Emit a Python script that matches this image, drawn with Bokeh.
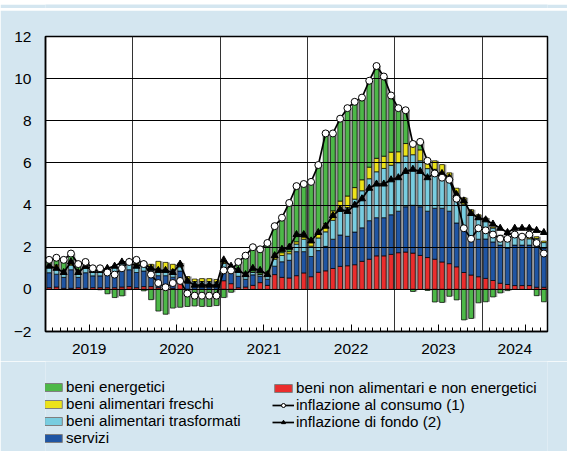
import numpy as np
from bokeh.plotting import figure
from bokeh.layouts import column
from bokeh.models import (ColumnDataSource, Range1d, FixedTicker, LabelSet,
                          Legend, LegendItem, LinearAxis)
from bokeh.core.properties import value
from bokeh.embed import file_html
from bokeh.resources import INLINE

# ---------------- data (Jan 2019 .. Sep 2024, monthly) ----------------
mesi = [f"{2019 + i // 12}-{i % 12 + 1:02d}" for i in range(69)]

energetici = [
    0.27, 0.34, 0.54, 0.48, 0.33, 0.21, 0.02, -0.02, -0.21, -0.39, -0.31, -0.01,
    0.16, -0.07, -0.49, -1.03, -1.18, -0.89, -0.85, -0.81, -0.79, -0.81, -0.81, -0.77,
    -0.39, -0.14, 0.44, 0.97, 1.18, 1.17, 1.38, 1.47, 1.66, 2.31, 2.64, 2.52,
    2.79, 3.16, 4.28, 3.67, 3.91, 4.17, 4.07, 3.90, 4.10, 4.38, 3.78, 2.69,
    2.07, 1.58, -0.10, 0.38, -0.05, -0.60, -0.62, -0.33, -0.50, -1.45, -1.38, -0.64,
    -0.59, -0.36, -0.17, -0.06, 0.03, 0.02, 0.11, -0.30, -0.59]
freschi = [
    0.05, 0.10, 0.06, 0.07, 0.09, 0.09, 0.07, 0.07, 0.04, 0.05, 0.09, 0.09,
    0.10, 0.09, 0.16, 0.34, 0.34, 0.26, 0.18, 0.16, 0.12, 0.14, 0.14, 0.12,
    0.06, 0.08, 0.02, 0.01, 0.00, 0.03, 0.09, 0.10, 0.13, 0.10, 0.11, 0.10,
    0.26, 0.30, 0.39, 0.45, 0.48, 0.55, 0.55, 0.52, 0.55, 0.64, 0.58, 0.62,
    0.52, 0.59, 0.61, 0.52, 0.42, 0.40, 0.39, 0.30, 0.32, 0.31, 0.26, 0.22,
    0.09, 0.05, 0.02, 0.02, 0.07, 0.08, 0.09, 0.08, 0.07]
trasformati = [
    0.29, 0.34, 0.23, 0.22, 0.21, 0.21, 0.27, 0.31, 0.25, 0.25, 0.29, 0.29,
    0.34, 0.31, 0.30, 0.34, 0.29, 0.35, 0.20, 0.16, 0.22, 0.22, 0.22, 0.20,
    0.26, 0.20, 0.22, 0.14, 0.13, 0.08, 0.25, 0.33, 0.30, 0.31, 0.36, 0.59,
    0.49, 0.60, 0.69, 0.90, 1.13, 1.36, 1.56, 1.76, 1.99, 2.18, 2.34, 2.35,
    2.30, 2.41, 2.40, 2.18, 2.02, 1.85, 1.68, 1.52, 1.33, 1.10, 1.00, 0.94,
    0.91, 0.66, 0.45, 0.48, 0.40, 0.30, 0.30, 0.39, 0.26]
servizi = [
    0.71, 0.61, 0.52, 0.88, 0.49, 0.74, 0.56, 0.56, 0.64, 0.71, 0.82, 0.80,
    0.72, 0.74, 0.60, 0.57, 0.60, 0.53, 0.52, 0.29, 0.15, 0.15, 0.15, 0.15,
    0.56, 0.49, 0.54, 0.37, 0.50, 0.30, 0.29, 0.40, 0.74, 0.84, 1.14, 1.01,
    0.96, 1.03, 1.16, 1.39, 1.49, 1.40, 1.55, 1.59, 1.83, 1.81, 1.81, 1.88,
    1.97, 2.15, 2.27, 2.31, 2.20, 2.42, 2.55, 2.49, 2.08, 2.14, 1.84, 1.78,
    1.87, 1.83, 1.81, 1.73, 1.92, 1.92, 1.92, 1.93, 1.86]
non_alimentari = [
    0.08, 0.11, 0.05, 0.05, 0.08, 0.05, 0.08, 0.08, 0.08, 0.08, 0.11, 0.13,
    0.08, 0.13, 0.13, 0.08, 0.05, 0.05, 0.35, 0.00, 0.00, 0.00, 0.00, 0.00,
    0.41, 0.27, 0.08, 0.11, 0.19, 0.32, 0.19, 0.70, 0.57, 0.54, 0.65, 0.78,
    0.60, 0.81, 0.88, 0.99, 1.09, 1.12, 1.17, 1.33, 1.43, 1.59, 1.59, 1.66,
    1.74, 1.77, 1.72, 1.61, 1.51, 1.43, 1.30, 1.22, 1.07, 0.80, 0.68, 0.60,
    0.52, 0.42, 0.29, 0.23, 0.18, 0.18, 0.18, 0.10, 0.10]
inflazione_consumo = [
    1.4, 1.5, 1.4, 1.7, 1.2, 1.3, 1.0, 1.0, 0.8, 0.7, 1.0, 1.3,
    1.4, 1.2, 0.7, 0.3, 0.1, 0.3, 0.4, -0.2, -0.3, -0.3, -0.3, -0.3,
    0.9, 0.9, 1.3, 1.6, 2.0, 1.9, 2.2, 3.0, 3.4, 4.1, 4.9, 5.0,
    5.1, 5.9, 7.4, 7.4, 8.1, 8.6, 8.9, 9.1, 9.9, 10.6, 10.1, 9.2,
    8.6, 8.5, 6.9, 7.0, 6.1, 5.5, 5.3, 5.2, 4.3, 2.9, 2.4, 2.9,
    2.8, 2.6, 2.4, 2.4, 2.6, 2.5, 2.6, 2.2, 1.7]
inflazione_fondo = [
    1.1, 1.0, 0.8, 1.3, 0.8, 1.1, 0.9, 0.9, 1.0, 1.1, 1.3, 1.3,
    1.1, 1.2, 1.0, 0.9, 0.9, 0.8, 1.2, 0.4, 0.2, 0.2, 0.2, 0.2,
    1.4, 1.1, 0.9, 0.7, 1.0, 0.9, 0.7, 1.6, 1.9, 2.0, 2.6, 2.6,
    2.3, 2.7, 3.0, 3.5, 3.8, 3.7, 4.0, 4.3, 4.8, 5.0, 5.0, 5.2,
    5.3, 5.6, 5.7, 5.6, 5.3, 5.5, 5.5, 5.3, 4.5, 4.2, 3.6, 3.4,
    3.3, 3.1, 2.9, 2.7, 2.9, 2.9, 2.9, 2.8, 2.7]

anni = ["2019", "2020", "2021", "2022", "2023", "2024"]
anni_pos = [6, 18, 30, 42, 54, 64.5]
y_ticks = [-2, 0, 2, 4, 6, 8, 10, 12]

# ---------------- style ----------------
FONT = "Liberation Sans"
FS = "15.5px"
LFS = "15.2px"
BG = "#d4e6f0"
TOPLINE = "#2c7aab"
GREEN = "#4db848"
YELLOW = "#ece31a"
LBLUE = "#78cde0"
BLUE = "#1f55a3"
RED = "#ea2d2d"
W = 567

n = len(mesi)
xc = np.arange(n) + 0.5


def strip(h, color):
    s = figure(width=W, height=h, output_backend="svg", toolbar_location=None,
               x_axis_location=None, y_axis_location=None,
               x_range=Range1d(0, 1), y_range=Range1d(0, 1), min_border=0)
    s.background_fill_color = color
    s.border_fill_color = color
    s.outline_line_color = None
    s.grid.visible = False
    return s


p_pad = strip(8, BG)        # light-blue band above the rule
p_rule = strip(2, TOPLINE)  # thin dark-blue rule across the page

# ---------------- main chart ----------------
p = figure(width=W, height=351, output_backend="svg", toolbar_location=None,
           x_range=Range1d(0, n), y_range=Range1d(-2, 12),
           min_border_left=45, min_border_right=20, min_border_top=26,
           min_border_bottom=30)
p.background_fill_color = "white"
p.border_fill_color = BG
p.outline_line_color = "black"
p.outline_line_width = 1.5

comps = [(non_alimentari, RED), (servizi, BLUE), (trasformati, LBLUE),
         (freschi, YELLOW), (energetici, GREEN)]
pos_tot = np.zeros(n)
neg_tot = np.zeros(n)
segments = []
for vals, col in comps:
    v = np.array(vals, dtype=float)
    bottom = np.where(v >= 0, pos_tot, neg_tot + v)
    top = np.where(v >= 0, pos_tot + v, neg_tot)
    pos_tot = np.where(v >= 0, pos_tot + v, pos_tot)
    neg_tot = np.where(v < 0, neg_tot + v, neg_tot)
    segments.append((bottom, top, col))

BW = 0.65
shadow = p.vbar(x=xc + 0.27, bottom=neg_tot, top=pos_tot, width=BW,
                fill_color="#9a9a9a", line_color=None)
shadow.level = "image"
for bottom, top, col in segments:
    r = p.vbar(x=xc, bottom=bottom, top=top, width=BW, fill_color=col,
               line_color="black", line_width=0.7)
    r.level = "image"

src = ColumnDataSource(dict(x=xc, cons=inflazione_consumo, fondo=inflazione_fondo))
p.line("x", "fondo", source=src, color="black", line_width=1.7)
p.scatter("x", "fondo", source=src, marker="triangle", size=7,
          fill_color="black", line_color="black")
p.line("x", "cons", source=src, color="black", line_width=1.7)
p.scatter("x", "cons", source=src, marker="circle", size=7,
          fill_color="white", line_color="black", line_width=1)

p.xgrid.ticker = FixedTicker(ticks=[12, 24, 36, 48, 60])
p.xgrid.grid_line_color = "#333333"
p.xgrid.grid_line_width = 1
p.ygrid.ticker = FixedTicker(ticks=[0, 2, 4, 6, 8, 10])
p.ygrid.grid_line_color = "black"
p.ygrid.grid_line_width = 1

# month ticks (inside, at the bottom)
xax = p.xaxis[0]
mid = [6, 18, 30, 42, 54, 66]
minor = [k for k in range(1, n) if k % 12 != 0 and k % 12 != 6]
xax.ticker = FixedTicker(ticks=mid, minor_ticks=minor)
xax.major_label_overrides = {t: "" for t in mid}
xax.major_label_text_font_size = "0px"
xax.major_label_standoff = 0
xax.major_tick_in = 7
xax.major_tick_out = 0
xax.minor_tick_in = 4
xax.minor_tick_out = 0
xax.major_tick_line_color = "black"
xax.minor_tick_line_color = "black"
xax.axis_line_color = "black"
xax.axis_line_width = 1.5

# year labels
yr_axis = LinearAxis(ticker=FixedTicker(ticks=anni_pos),
                     major_label_overrides=dict(zip(anni_pos, anni)),
                     major_tick_line_color=None, minor_tick_line_color=None,
                     axis_line_color=None, major_label_standoff=6,
                     major_label_text_font=FONT, major_label_text_font_size=FS,
                     major_label_text_color="black")
p.add_layout(yr_axis, "below")

yax = p.yaxis[0]
yax.ticker = FixedTicker(ticks=y_ticks)
yax.major_tick_in = 0
yax.major_tick_out = 0
yax.minor_tick_line_color = None
yax.major_label_standoff = 14
yax.major_label_text_font = FONT
yax.major_label_text_font_size = FS
yax.major_label_text_color = "black"
yax.axis_line_color = "black"
yax.axis_line_width = 1.5

# right-hand tick labels (cut at the page edge as in the original)
rsrc = ColumnDataSource(dict(x=[n] * len(y_ticks), y=y_ticks,
                             t=[str(v) for v in y_ticks]))
p.add_layout(LabelSet(x="x", y="y", text="t", source=rsrc, x_offset=13,
                      text_align="left", text_baseline="middle",
                      text_font=value(FONT), text_font_size=FS,
                      text_color="black"))

# ---------------- legend panel ----------------
p_leg = figure(width=W, height=90, output_backend="svg", toolbar_location=None,
               x_axis_location=None, y_axis_location=None,
               x_range=Range1d(0, 1), y_range=Range1d(0, 1), min_border=0)
p_leg.background_fill_color = BG
p_leg.border_fill_color = BG
p_leg.outline_line_color = None
p_leg.grid.visible = False

NAN = np.array([np.nan])


def box(col):
    return p_leg.vbar(x=NAN, top=NAN, width=0.5, fill_color=col,
                      line_color="#7f7f7f", line_width=1)


def key_line(marker, fill):
    rl = p_leg.line(x=NAN, y=NAN, color="black", line_width=1.7)
    rs = p_leg.scatter(x=NAN, y=NAN, marker=marker, size=6, fill_color=fill,
                       line_color="black", line_width=1)
    return [rl, rs]


items1 = [LegendItem(label="beni energetici", renderers=[box(GREEN)]),
          LegendItem(label="beni alimentari freschi", renderers=[box(YELLOW)]),
          LegendItem(label="beni alimentari trasformati", renderers=[box(LBLUE)]),
          LegendItem(label="servizi", renderers=[box(BLUE)])]
items2 = [LegendItem(label="beni non alimentari e non energetici", renderers=[box(RED)]),
          LegendItem(label="inflazione al consumo (1)", renderers=key_line("circle", "white")),
          LegendItem(label="inflazione di fondo (2)", renderers=key_line("triangle", "black"))]


def make_legend(items, loc):
    return Legend(items=items, location=loc, orientation="vertical",
                  glyph_width=22, glyph_height=10, label_height=17,
                  label_standoff=2, spacing=0, padding=0, margin=0,
                  border_line_color=None, background_fill_alpha=0,
                  label_text_font=FONT, label_text_font_size=LFS,
                  label_text_color="black")


p_leg.add_layout(make_legend(items1, (-3, 5)), "center")
p_leg.add_layout(make_legend(items2, (227, 21)), "center")

layout = column(p_pad, p_rule, p, p_leg, spacing=0)
open("out.html", "w").write(file_html(layout, INLINE))
